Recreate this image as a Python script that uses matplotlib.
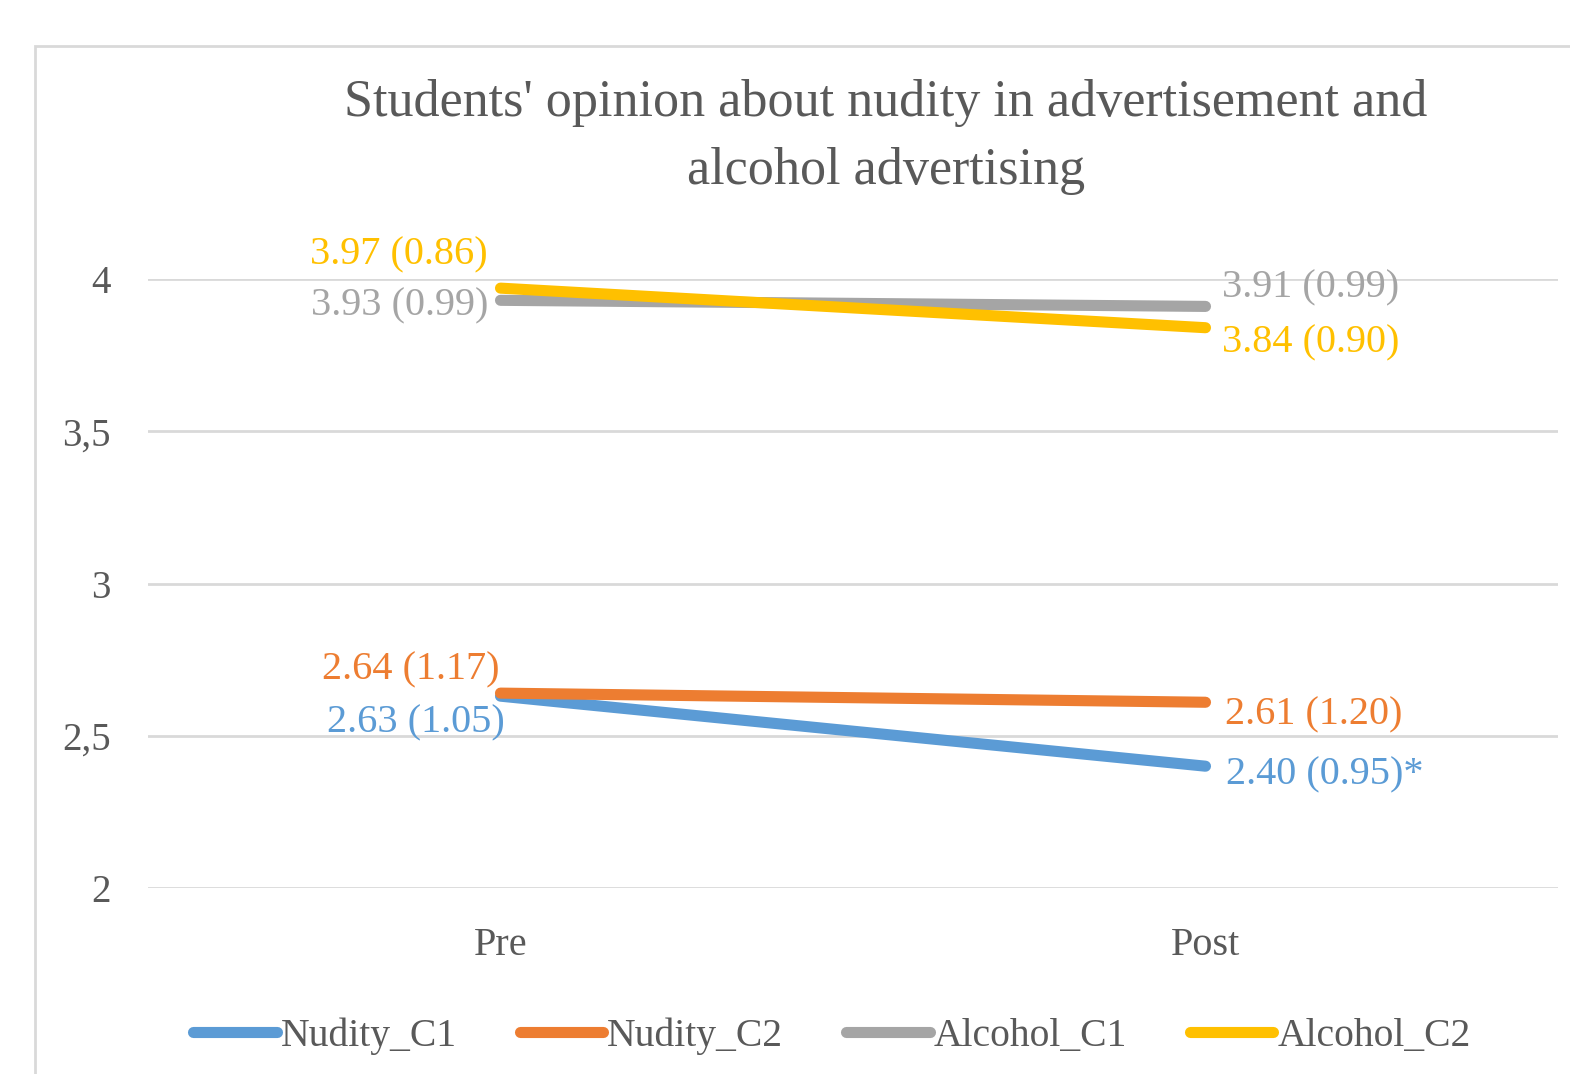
import matplotlib.pyplot as plt
from matplotlib.patches import Rectangle

plt.rcParams['font.family'] = ['Liberation Serif', 'DejaVu Serif']

# data
categories = ['Pre', 'Post']
series_names = ['Nudity_C1', 'Nudity_C2', 'Alcohol_C1', 'Alcohol_C2']
nudity_c1 = [2.63, 2.40]
nudity_c2 = [2.64, 2.61]
alcohol_c1 = [3.93, 3.91]
alcohol_c2 = [3.97, 3.84]
nudity_c1_labels = ['2.63 (1.05)', '2.40 (0.95)*']
nudity_c2_labels = ['2.64 (1.17)', '2.61 (1.20)']
alcohol_c1_labels = ['3.93 (0.99)', '3.91 (0.99)']
alcohol_c2_labels = ['3.97 (0.86)', '3.84 (0.90)']
y_ticks = [2, 2.5, 3, 3.5, 4]
y_tick_labels = ['2', '2,5', '3', '3,5', '4']

colors = ['#5B9BD5', '#ED7D31', '#A5A5A5', '#FFC000']
text_col = '#595959'

fig = plt.figure(figsize=(15.7, 10.74), dpi=100)
fig.patches.append(Rectangle((35 / 1570, -0.1), 1.2, 1 - 46 / 1074 + 0.1,
                             transform=fig.transFigure, fill=False,
                             edgecolor='#D9D9D9', linewidth=2))
ax = fig.add_axes([148 / 1570, 186 / 1074, 1410 / 1570, 609 / 1074])

x = range(len(categories))
all_vals = [nudity_c1, nudity_c2, alcohol_c1, alcohol_c2]
for vals, name, c in zip(all_vals, series_names, colors):
    ax.plot(x, vals, color=c, linewidth=8, solid_capstyle='round',
            label=name, clip_on=False, zorder=3)

# data labels: (labels, series, color, offsets Pre, offsets Post, white box on Pre)
label_specs = [
    (nudity_c1_labels, nudity_c1, colors[0], (3, -19), (15, -6), False),
    (nudity_c2_labels, nudity_c2, colors[1], (-1, 17), (14, -9), False),
    (alcohol_c1_labels, alcohol_c1, colors[2], (-9, -4), (12, 13), False),
    (alcohol_c2_labels, alcohol_c2, colors[3], (-9, 24), (12, -11), True),
]
for labels, vals, c, off_pre, off_post, boxed in label_specs:
    box = dict(facecolor='white', edgecolor='none', pad=1) if boxed else None
    ax.annotate(labels[0], (0, vals[0]), xytext=off_pre, textcoords='offset points',
                ha='right', va='center', color=c, fontsize=29, zorder=4, bbox=box)
    ax.annotate(labels[1], (1, vals[1]), xytext=off_post, textcoords='offset points',
                ha='left', va='center', color=c, fontsize=29, zorder=4)

ax.set_xlim(-0.5, 1.5)
ax.set_ylim(2, 4)
ax.set_xticks(list(x))
ax.set_xticklabels(categories, fontsize=29, color=text_col)
ax.set_yticks(y_ticks)
ax.set_yticklabels(y_tick_labels, fontsize=28, color=text_col)
ax.tick_params(length=0)
ax.tick_params(axis='x', pad=28)
ax.tick_params(axis='y', pad=27)
ax.grid(axis='y', color='#D9D9D9', linewidth=2)
ax.set_axisbelow(True)
for s in ax.spines.values():
    s.set_visible(False)

fig.text(886 / 1570, 1 - 137 / 1074,
         "Students' opinion about nudity in advertisement and\nalcohol advertising",
         ha='center', va='center', fontsize=37.5, color=text_col, linespacing=1.55)

fig.legend(loc='center', bbox_to_anchor=(832 / 1570, 38 / 1074), ncol=4,
           frameon=False, fontsize=28.5, handlelength=2.1, handletextpad=0.1,
           columnspacing=1.6, labelcolor=text_col)

fig.savefig('out.png', dpi=100)
